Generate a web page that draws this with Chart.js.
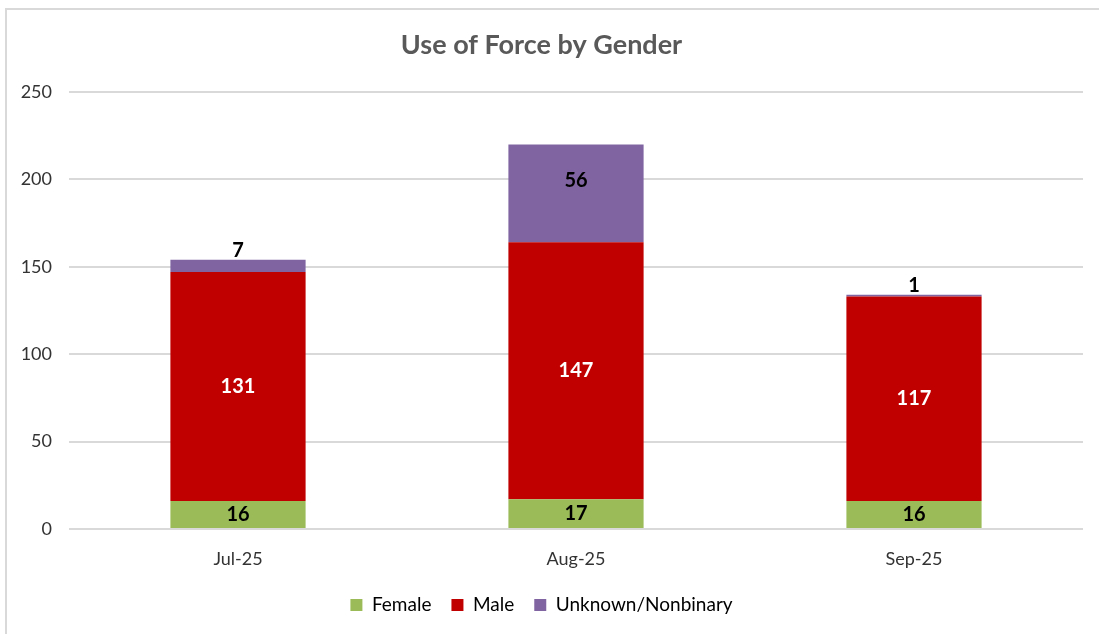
<!DOCTYPE html>
<html>
<head>
<meta charset="utf-8">
<script src="https://cdn.jsdelivr.net/npm/chart.js@4"></script>
<style>
  html, body { margin: 0; padding: 0; background: #fff; }
  #wrap { position: relative; width: 1099px; height: 634px; overflow: hidden; }
  /* chart frame: only top and left edges are visible in the picture */
  #wrap::before { content: ""; position: absolute; left: 5px; top: 8px; right: 0; height: 2px; background: #d9d9d9; }
  #wrap::after { content: ""; position: absolute; left: 5px; top: 8px; bottom: 0; width: 2px; background: #d9d9d9; }
  canvas { display: block; }
</style>
</head>
<body>
<div id="wrap"><canvas id="forceChart" width="1099" height="634"></canvas></div>
<script>
// Data
const months = ["Jul-25", "Aug-25", "Sep-25"];
const female = [16, 17, 16];
const male = [131, 147, 117];
const unknown = [7, 56, 1];
const yTicks = [0, 50, 100, 150, 200, 250];

const fontFamily = "Lato, 'Open Sans', sans-serif";

// Draws the value labels inside (or just above, when too thin) each segment
const valueLabels = {
  id: "valueLabels",
  afterDatasetsDraw(chart) {
    const ctx = chart.ctx;
    ctx.save();
    ctx.font = "bold 20px " + fontFamily;
    ctx.textAlign = "center";
    ctx.textBaseline = "middle";
    chart.data.datasets.forEach((ds, i) => {
      const meta = chart.getDatasetMeta(i);
      meta.data.forEach((bar, j) => {
        const v = ds.data[j];
        const top = Math.min(bar.y, bar.base);
        const h = Math.abs(bar.base - bar.y);
        let y = top + h / 2;
        if (h < 20) y = top - 9;
        else if (h > 80 && i === 2) y = top + 36; // tall top segment: label sits higher
        ctx.fillStyle = ds.labelColor;
        ctx.fillText(v, bar.x, y);
      });
    });
    ctx.restore();
  }
};

new Chart(document.getElementById("forceChart"), {
  type: "bar",
  data: {
    labels: months,
    datasets: [
      { label: "Female", data: female, backgroundColor: "#9BBB59", labelColor: "#000000" },
      { label: "Male", data: male, backgroundColor: "#C00000", labelColor: "#FFFFFF" },
      { label: "Unknown/Nonbinary", data: unknown, backgroundColor: "#8064A2", labelColor: "#000000" }
    ]
  },
  options: {
    responsive: false,
    animation: false,
    layout: { padding: { top: 8, right: 16, bottom: 9.5, left: 0 } },
    datasets: { bar: { categoryPercentage: 1, barPercentage: 0.4 } },
    plugins: {
      title: {
        display: true,
        text: "Use of Force by Gender",
        color: "#595959",
        font: { family: fontFamily, size: 27, weight: "bold", lineHeight: 1.2 },
        padding: { top: 20.8, bottom: 30.8 }
      },
      legend: {
        position: "bottom",
        labels: {
          color: "#000000",
          boxWidth: 12,
          boxHeight: 12,
          padding: 20,
          font: { family: fontFamily, size: 19 }
        }
      },
      tooltip: { enabled: false }
    },
    scales: {
      x: {
        stacked: true,
        grid: { display: false },
        border: { display: false },
        ticks: { color: "#333333", padding: 11, font: { family: fontFamily, size: 18 } },
        afterFit(scale) { scale.height = 46.5; }
      },
      y: {
        stacked: true,
        min: 0,
        max: 250,
        afterBuildTicks(scale) { scale.ticks = yTicks.map(v => ({ value: v })); },
        grid: { color: "#d9d9d9", lineWidth: 2, drawTicks: false },
        border: { display: false },
        ticks: { color: "#333333", padding: 17, font: { family: fontFamily, size: 18 } },
        afterFit(scale) { scale.width = 69; }
      }
    }
  },
  plugins: [valueLabels]
});
</script>
</body>
</html>
